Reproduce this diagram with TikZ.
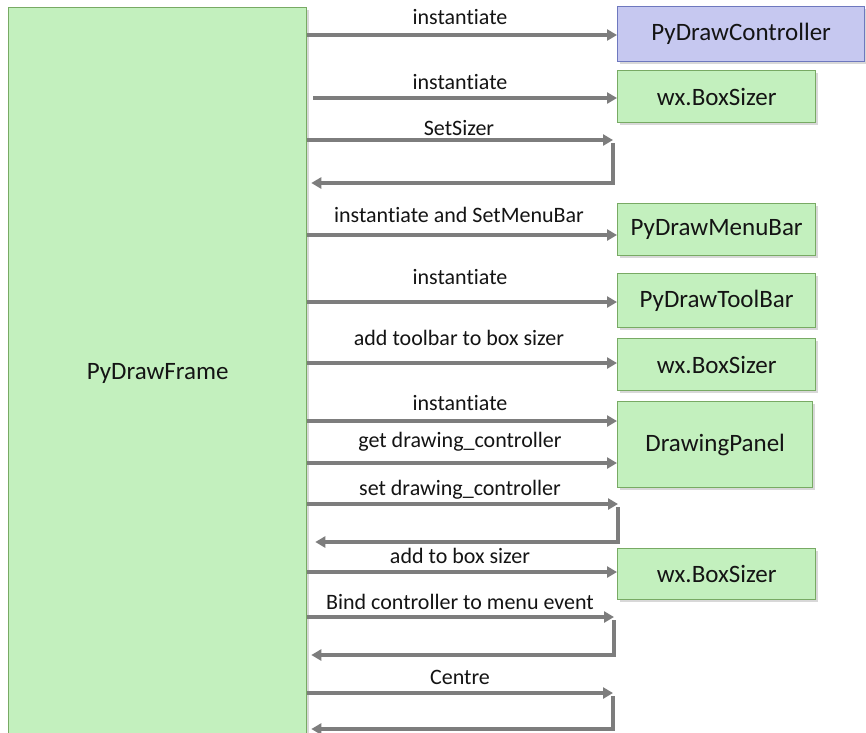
\documentclass[tikz,border=0pt]{standalone}
\usepackage{fontspec}
\setmainfont{Carlito}[Ligatures={NoCommon}]
\usetikzlibrary{arrows.meta,shadows}
\definecolor{boxgreen}{RGB}{195,240,190}
\definecolor{boxgreenline}{RGB}{120,170,100}
\definecolor{boxblue}{RGB}{198,200,240}
\definecolor{boxblueline}{RGB}{110,120,190}
\definecolor{arrowgray}{RGB}{125,125,125}
\definecolor{txt}{RGB}{20,20,20}
\begin{document}
\begin{tikzpicture}[x=1pt,y=-1pt,
  box/.style={draw=boxgreenline, fill=boxgreen, line width=1.3pt, text=txt,
    font=\fontsize{25}{30}\selectfont, inner sep=0pt, anchor=north west,
    drop shadow={shadow xshift=2.5pt, shadow yshift=-2.5pt, opacity=0.3}},
  bluebox/.style={box, draw=boxblueline, fill=boxblue},
  lbl/.style={text=txt, font=\fontsize{22}{26}\selectfont, inner sep=0pt},
  arr/.style={draw=arrowgray, line width=3.3pt, -{Triangle[length=10pt,width=11pt]}}]
\useasboundingbox (0,0) rectangle (866,732);
\clip (0,0) rectangle (866,732);
\fill[white] (0,0) rectangle (866,732);

% nodes
\node[box, minimum width=298pt, minimum height=732pt] (frame) at (8,7) {PyDrawFrame};
\node[bluebox, minimum width=247pt, minimum height=55pt] (ctrl) at (617,6) {PyDrawController};
\node[box, minimum width=198pt, minimum height=52pt] (bs1) at (617,70) {wx.BoxSizer};
\node[box, minimum width=198pt, minimum height=52pt] (menu) at (617,203) {PyDrawMenuBar};
\node[box, minimum width=198pt, minimum height=54pt] (tool) at (617,273) {PyDrawToolBar};
\node[box, minimum width=198pt, minimum height=52pt] (bs2) at (617,338) {wx.BoxSizer};
\node[box, minimum width=195pt, minimum height=86pt] (panel) at (617,401) {DrawingPanel};
\node[box, minimum width=198pt, minimum height=51pt] (bs3) at (617,548) {wx.BoxSizer};

% loop corners
\coordinate (l1) at (613,140);
\coordinate (l2) at (618,504);
\coordinate (l3) at (614,617);
\coordinate (l4) at (613,693);

% connectors
\draw[arr] (frame.east |- 0,35) -- (ctrl.west |- 0,35);
\draw[arr] ([xshift=6pt]frame.east |- 0,98) -- (bs1.west |- 0,98);
\draw[arr] (frame.east |- l1) -- (l1);
\draw[arr] ([yshift=-3pt]l1) |- ([xshift=4pt]frame.east |- 0,183);
\draw[arr] (frame.east |- 0,235) -- (menu.west |- 0,235);
\draw[arr] (frame.east |- 0,302) -- (tool.west |- 0,302);
\draw[arr] (frame.east |- 0,363) -- (bs2.west |- 0,363);
\draw[arr] (frame.east |- 0,421) -- (panel.west |- 0,421);
\draw[arr] (frame.east |- 0,463) -- (panel.west |- 0,463);
\draw[arr] (frame.east |- l2) -- (l2);
\draw[arr] ([yshift=-3pt]l2) |- ([xshift=8pt]frame.east |- 0,542);
\draw[arr] (frame.east |- 0,572) -- (bs3.west |- 0,572);
\draw[arr] (frame.east |- l3) -- (l3);
\draw[arr] ([yshift=-3pt]l3) |- ([xshift=4pt]frame.east |- 0,655);
\draw[arr] (frame.east |- l4) -- (l4);
\draw[arr] ([yshift=-3pt]l4) |- ([xshift=4pt]frame.east |- 0,729);

% labels
\node[lbl] (t1) at (460,17) {instantiate};
\node[lbl] (t2) at (460,82) {instantiate};
\node[lbl] (t3) at (459,128) {SetSizer};
\node[lbl] (t4) at (459,215) {instantiate and SetMenuBar};
\node[lbl] (t5) at (460,277) {instantiate};
\node[lbl] (t6) at (459,338) {add toolbar to box sizer};
\node[lbl] (t7) at (460,403) {instantiate};
\node[lbl] (t8) at (460,442) {get drawing\_controller};
\node[lbl] (t9) at (460,490) {set drawing\_controller};
\node[lbl] (t10) at (460,556) {add to box sizer};
\node[lbl] (t11) at (460,602) {Bind controller to menu event};
\node[lbl] (t12) at (460,677) {Centre};
\end{tikzpicture}
\end{document}
